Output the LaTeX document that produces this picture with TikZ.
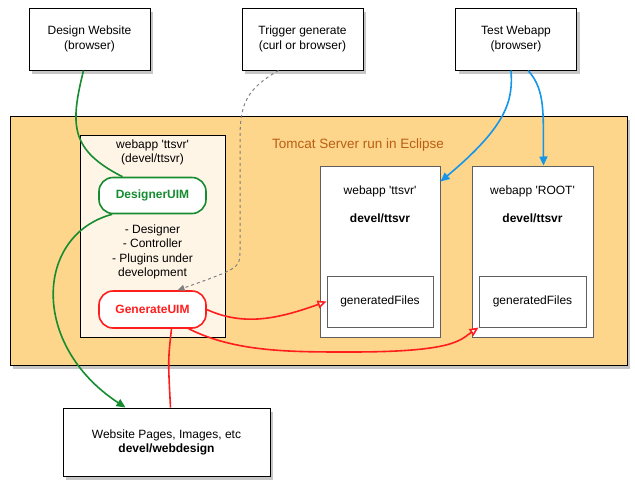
\documentclass[tikz,border=0pt]{standalone}
\usepackage{fontspec}
\setmainfont{Liberation Sans}
\usepackage{tikz}
\usetikzlibrary{arrows.meta,shadows,positioning}

\definecolor{tomcatfill}{RGB}{253,213,139}
\definecolor{appfill}{RGB}{255,245,231}
\definecolor{uimgreen}{RGB}{22,140,48}
\definecolor{uimred}{RGB}{255,30,30}
\definecolor{linkblue}{RGB}{22,150,232}
\definecolor{titlebrown}{RGB}{185,95,20}
\definecolor{boxgray}{RGB}{95,95,95}

\begin{document}
\begin{tikzpicture}[x=1pt,y=-1pt,font=\fontsize{12}{14.5}\selectfont,
  shade/.style={drop shadow={shadow xshift=3pt,shadow yshift=-4pt,opacity=.45}},
  client/.style={draw,line width=1pt,fill=white,shade,align=center,minimum width=121pt,minimum height=62pt},
  app/.style={draw=boxgray,line width=1pt,fill=white,minimum width=120pt,minimum height=171pt},
  files/.style={draw=boxgray,line width=1pt,fill=white,minimum width=106pt,minimum height=51pt},
  uim/.style={draw=#1,text=#1,line width=1.6pt,fill=white,rounded corners=14pt,font=\fontsize{12}{14.5}\selectfont\bfseries,minimum width=107pt,minimum height=36pt},
  top/.style={inner sep=0pt,align=center}]
\useasboundingbox (0,0) rectangle (635,491);

% clients
\node[client] (design) at (89.5,39) {Design Website\\(browser)};
\node[client] (trigger) at (302.5,39) {Trigger generate\\(curl or browser)};
\node[client] (test) at (516,39) {Test Webapp\\(browser)};

% tomcat
\node[draw,line width=1pt,fill=tomcatfill,shade,minimum width=617pt,minimum height=249pt] (tomcat) at (318.5,240.5) {};
\node[text=titlebrown,font=\fontsize{13.5}{16}\selectfont] (title) at (358,145) {Tomcat Server run in Eclipse};

\node[draw,line width=1pt,fill=appfill,minimum width=145pt,minimum height=202pt,
  label={[top,below=5pt]north:{webapp \textquotesingle ttsvr\textquotesingle\\(devel/ttsvr)}}] (devapp) at (152.5,236) {};
\node[uim=uimgreen] (designer) at (152.5,195.5) {DesignerUIM};
\node[align=center] (roles) at (152.5,252) {- Designer\\- Controller\\- Plugins under\\development};
\node[uim=uimred,minimum height=37pt] (generate) at (152.5,309.5) {GenerateUIM};

\node[app,label={[top,below=20pt]north:{webapp \textquotesingle ttsvr\textquotesingle\\[13.5pt]\textbf{devel/ttsvr}}}] (ttsvr) at (380,251.5) {};
\node[app,minimum width=121pt,label={[top,below=20pt]north:{webapp \textquotesingle ROOT\textquotesingle\\[13.5pt]\textbf{devel/ttsvr}}}] (root) at (532.5,251.5) {};
\node[files] (files1) [above=10pt of ttsvr.south] {generatedFiles};
\node[files,minimum width=107pt] (files2) [above=10pt of root.south] {generatedFiles};

\node[client,minimum width=207pt,minimum height=68pt,font=\fontsize{12}{14}\selectfont] (pages) at (166.5,442) {Website Pages, Images, etc\\\textbf{devel/webdesign}};

% links
\draw[uimgreen,line width=1.6pt] ([xshift=-6pt]design.south) .. controls (70,125) and (70,150) .. (designer.148);
\draw[uimgreen,line width=1.6pt,-{Triangle[length=9pt,width=8pt]}] (designer.205) .. controls (35,235) and (30,345) .. ([xshift=-41pt]pages.north);
\draw[gray,line width=1pt,dashed,-{Triangle[length=7pt,width=6pt]}] ([xshift=-24pt]trigger.south) .. controls (245,90) and (240,105) .. (240,140) -- (240,250) .. controls (240,268) .. ([xshift=25pt]generate.north);
\draw[linkblue,line width=1.6pt,-{Triangle[length=9pt,width=8pt]}] ([xshift=-5pt]test.south) .. controls (513,100) and (508,125) .. ([yshift=-16pt]ttsvr.north east);
\draw[linkblue,line width=1.6pt,-{Triangle[length=9pt,width=8pt]}] ([xshift=12pt]test.south) .. controls (546,90) and (543,115) .. ([xshift=11pt]root.north);
\draw[uimred,line width=1.6pt,-{Triangle[open,length=9pt,width=8pt,fill=white]}] (generate.east) .. controls (245,327) and (280,318) .. (files1.west);
\draw[uimred,line width=1.6pt,-{Triangle[open,length=9pt,width=8pt,fill=white]}] (generate.-28) .. controls (235,352) and (290,352) .. (350,352) .. controls (455,352) and (460,340) .. (files2.south west);
\draw[uimred,line width=1.6pt] ([xshift=19pt]generate.south) .. controls (168,360) .. ([xshift=4pt]pages.north);
\end{tikzpicture}
\end{document}
